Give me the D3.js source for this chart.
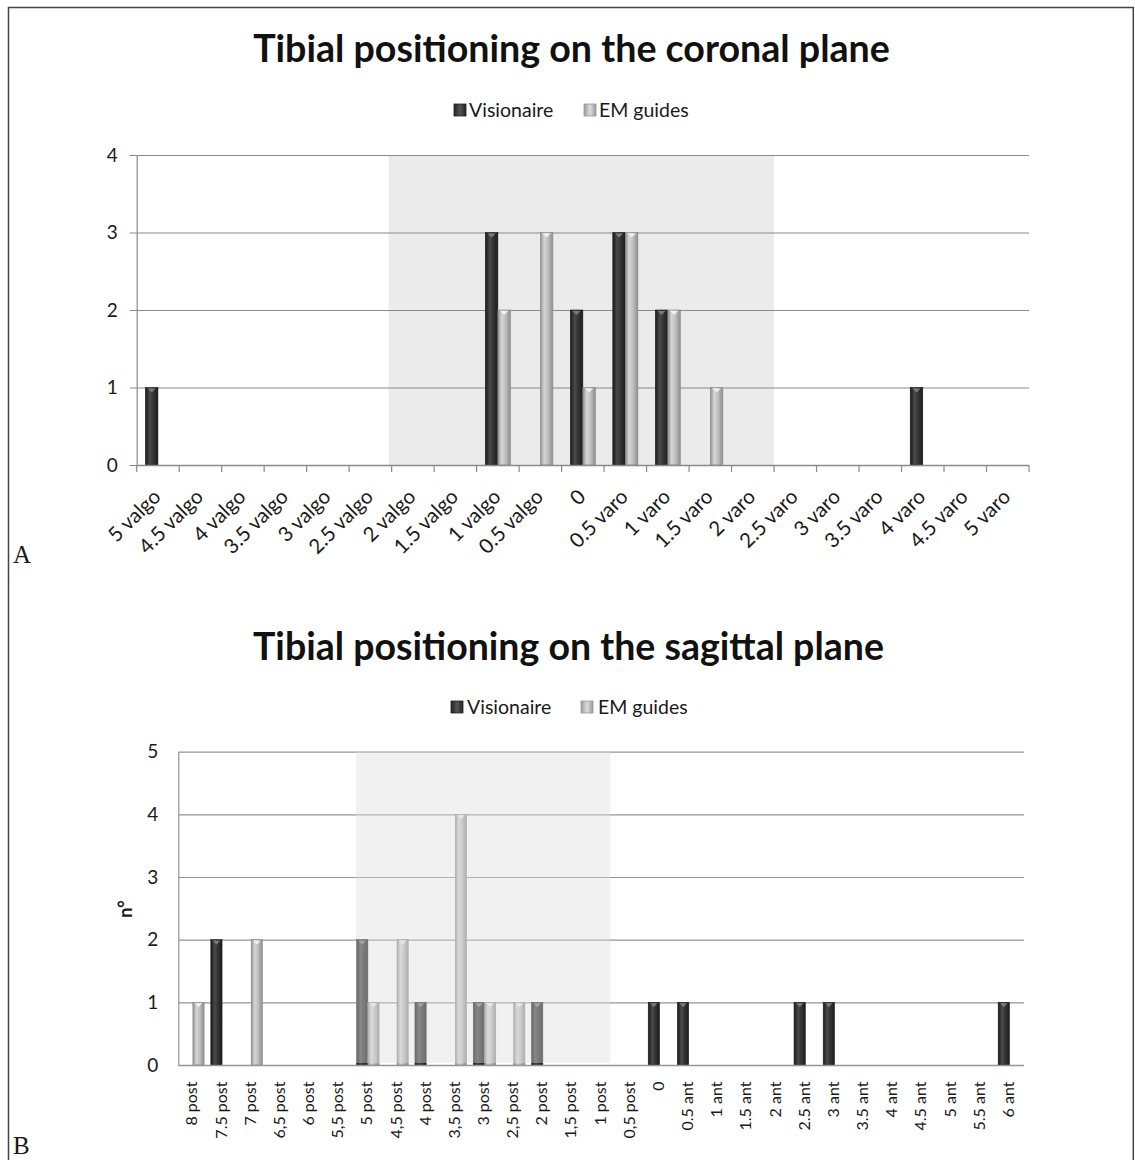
<!DOCTYPE html>
<html><head><meta charset="utf-8">
<script src="https://cdn.jsdelivr.net/npm/d3@7"></script>
<style>
body{margin:0;background:#fff}
svg{display:block}
text{font-family:Lato,"Open Sans",sans-serif;fill:#1a1a1a}
</style></head>
<body><svg id="c" width="1135" height="1160"></svg>
<script>
// ---------- DATA ----------
const coronalTitle = "Tibial positioning on the coronal plane";
const coronalCategories = ["5 valgo","4.5 valgo","4 valgo","3.5 valgo","3 valgo","2.5 valgo","2 valgo","1.5 valgo","1 valgo","0.5 valgo","0","0.5 varo","1 varo","1.5 varo","2 varo","2.5 varo","3 varo","3.5 varo","4 varo","4.5 varo","5 varo"];
const coronalVisionaire = [1,0,0,0,0,0,0,0,3,0,2,3,2,0,0,0,0,0,1,0,0];
const coronalEMguides   = [0,0,0,0,0,0,0,0,2,3,1,3,2,1,0,0,0,0,0,0,0];
const coronalTicks = [0,1,2,3,4];
const coronalBand = ["2 valgo","2 varo"];

const sagittalTitle = "Tibial positioning on the sagittal plane";
const sagittalCategories = ["8 post","7.5 post","7 post","6,5 post","6 post","5,5 post","5 post","4,5 post","4 post","3,5 post","3 post","2,5 post","2 post","1,5 post","1 post","0,5 post","0","0.5 ant","1 ant","1.5 ant","2 ant","2.5 ant","3 ant","3.5 ant","4 ant","4.5 ant","5 ant","5.5 ant","6 ant"];
const sagittalVisionaire = [0,2,0,0,0,0,2,0,1,0,1,0,1,0,0,0,1,1,0,0,0,1,1,0,0,0,0,0,1];
const sagittalEMguides   = [1,0,2,0,0,0,1,2,0,4,1,1,0,0,0,0,0,0,0,0,0,0,0,0,0,0,0,0,0];
const sagittalTicks = [0,1,2,3,4,5];
const sagittalBand = ["5 post","1 post"];

const seriesNames = ["Visionaire","EM guides"];
const yLabelSagittal = "n°";
const panelLabels = ["A","B"];

// ---------- DRAW ----------
const svg = d3.select("#c");
const defs = svg.append("defs");
function grad(id, stops){
  const g = defs.append("linearGradient").attr("id",id).attr("x1","0%").attr("x2","100%").attr("y1","0%").attr("y2","0%");
  stops.forEach(([o,c])=>g.append("stop").attr("offset",o).attr("stop-color",c));
}
grad("gVis",[["0%","#181818"],["35%","#4a4a4a"],["60%","#363636"],["100%","#1c1c1c"]]);
grad("gEM",[["0%","#8c8c8c"],["30%","#d6d6d6"],["60%","#c0c0c0"],["100%","#8e8e8e"]]);
grad("lgVis",[["0%","#222"],["50%","#555"],["100%","#222"]]);
grad("lgEM",[["0%","#999"],["50%","#ddd"],["100%","#999"]]);

// frame
svg.append("path").attr("d","M8.5,1170V7.5H1133.3V1170").attr("fill","none").attr("stroke","#444").attr("stroke-width",1.5);

function fitTitle(sel, target){
  const w = sel.node().getComputedTextLength();
  const fs = parseFloat(sel.attr("font-size"));
  sel.attr("font-size", fs*target/w);
}

function drawChart(cfg){
  const g = svg.append("g");
  const x = d3.scaleBand().domain(cfg.categories).range([cfg.x0,cfg.x1]).padding(0);
  const y = d3.scaleLinear().domain([0,d3.max(cfg.ticks)]).range([cfg.yBase,cfg.yTop]);
  const step = x.bandwidth();
  const bw = step*cfg.barFrac;

  // title
  const t = g.append("text").attr("x",cfg.titleX).attr("y",cfg.titleY).attr("text-anchor","middle")
    .attr("font-weight","bold").attr("font-size",32).style("fill","#111").text(cfg.title);
  fitTitle(t, cfg.titleW);

  // legend
  const lg = g.append("g");
  cfg.legend.forEach((L,i)=>{
    lg.append("rect").attr("x",L.sx).attr("y",cfg.legendY-6).attr("width",12).attr("height",12)
      .attr("fill", i===0?"url(#lgVis)":"url(#lgEM)").attr("stroke", i===0?"#222":"#999").attr("stroke-width",0.8);
    lg.append("text").attr("x",L.tx).attr("y",cfg.legendY+7).attr("font-size",19.5).text(seriesNames[i]);
  });

  // band behind
  const bx0 = x(cfg.band[0]) + cfg.bandOff[0];
  const bx1 = x(cfg.band[1]) + step + cfg.bandOff[1];
  if(!cfg.bandOver){
    g.append("rect").attr("x",bx0).attr("y",y(d3.max(cfg.ticks))).attr("width",bx1-bx0)
      .attr("height",y(0)-y(d3.max(cfg.ticks))).attr("fill","#ebebeb");
  }

  // gridlines
  g.append("g").selectAll("line").data(cfg.ticks.filter(d=>d>0)).join("line")
    .attr("x1",cfg.x0).attr("x2",cfg.x1).attr("y1",d=>y(d)+0.5).attr("y2",d=>y(d)+0.5)
    .attr("stroke",cfg.gridColor).attr("stroke-width",1.2);

  // bars
  const data = [];
  cfg.categories.forEach((c,i)=>{
    data.push({c, s:0, v:cfg.vis[i]});
    data.push({c, s:1, v:cfg.em[i]});
  });
  const bars = g.append("g").selectAll("g").data(data.filter(d=>d.v>0)).join("g");
  bars.append("rect")
    .attr("x",d=>x(d.c)+step/2 + (d.s===0?-bw:0))
    .attr("y",d=>y(d.v)).attr("width",bw).attr("height",d=>y(0)-y(d.v))
    .attr("fill",d=>d.s===0?"url(#gVis)":"url(#gEM)")
    .attr("stroke",d=>d.s===0?"#1a1a1a":"#8a8a8a").attr("stroke-width",0.6);
  bars.append("path")
    .attr("d",d=>{
      const cx = x(d.c)+step/2 + (d.s===0?-bw/2:bw/2);
      const yy = y(d.v);
      return `M${cx-bw*0.32},${yy+1}L${cx+bw*0.32},${yy+1}L${cx},${yy+5}Z`;
    })
    .attr("fill",d=>d.s===0?"#7a7a7a":"#f0f0f0");

  if(cfg.bandOver){
    g.append("rect").attr("x",bx0).attr("y",y(d3.max(cfg.ticks))).attr("width",bx1-bx0)
      .attr("height",y(0)-y(d3.max(cfg.ticks))-2).attr("fill","#dedede").attr("fill-opacity",0.42);
  }

  // y axis
  const ya = g.append("g").attr("transform",`translate(${cfg.x0},0)`)
    .call(d3.axisLeft(y).tickValues(cfg.ticks).tickFormat(d3.format("d")).tickSize(cfg.yTickSize).tickPadding(cfg.yPad));
  ya.select(".domain").attr("stroke",cfg.axisColor).attr("stroke-width",1.2);
  ya.selectAll(".tick line").attr("stroke",cfg.axisColor);
  ya.selectAll(".tick text").attr("font-size",19).attr("font-family","Lato").style("fill","#1a1a1a");

  // x axis line
  g.append("line").attr("x1",cfg.x0).attr("x2",cfg.x1).attr("y1",y(0)+0.5).attr("y2",y(0)+0.5)
    .attr("stroke",cfg.axisColor).attr("stroke-width",1.4);
  if(cfg.xTicks){
    const bounds = cfg.categories.map(c=>x(c)).concat([cfg.x1]);
    g.append("g").selectAll("line").data(bounds).join("line")
      .attr("x1",d=>d).attr("x2",d=>d).attr("y1",y(0)).attr("y2",y(0)+7)
      .attr("stroke",cfg.axisColor).attr("stroke-width",1.2);
  }

  // x labels
  g.append("g").selectAll("text").data(cfg.categories).join("text")
    .attr("transform",c=>`translate(${x(c)+step/2+cfg.lblDx},${y(0)+cfg.lblDy}) rotate(${cfg.lblRot})`)
    .attr("text-anchor","end").attr("font-size",cfg.lblSize).text(c=>c);

  return {x,y};
}

drawChart({
  title:coronalTitle, titleX:571.5, titleY:62, titleW:637,
  legendY:110, legend:[{sx:454,tx:469},{sx:584,tx:599}],
  categories:coronalCategories, vis:coronalVisionaire, em:coronalEMguides, ticks:coronalTicks,
  x0:136.7, x1:1029, yTop:155, yBase:465, barFrac:0.295,
  band:coronalBand, bandOff:[-3,0], bandOver:false,
  gridColor:"#8a8a8a", axisColor:"#8a8a8a", yTickSize:7, yPad:12, xTicks:true,
  lblDx:4, lblDy:33, lblRot:-45, lblSize:20.5
});

drawChart({
  title:sagittalTitle, titleX:568.5, titleY:660, titleW:631,
  legendY:707, legend:[{sx:451,tx:467},{sx:581,tx:598}],
  categories:sagittalCategories, vis:sagittalVisionaire, em:sagittalEMguides, ticks:sagittalTicks,
  x0:178.3, x1:1024, yTop:751.7, yBase:1065, barFrac:0.385,
  band:sagittalBand, bandOff:[2.5,-5.5], bandOver:true,
  gridColor:"#959595", axisColor:"#959595", yTickSize:0, yPad:20, xTicks:false,
  lblDx:4.5, lblDy:16.5, lblRot:-90, lblSize:16
});

svg.append("text").attr("transform","translate(132,909) rotate(-90)").attr("text-anchor","middle")
  .attr("font-weight","bold").attr("font-size",18).text(yLabelSagittal);

svg.append("text").attr("x",13).attr("y",563).style("font-family","'Liberation Serif',serif")
  .attr("font-size",25).text(panelLabels[0]);
svg.append("text").attr("x",13).attr("y",1154).style("font-family","'Liberation Serif',serif")
  .attr("font-size",25).text(panelLabels[1]);
</script>
</body></html>
